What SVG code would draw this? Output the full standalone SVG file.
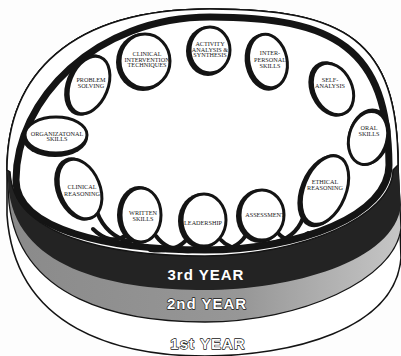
<svg xmlns="http://www.w3.org/2000/svg" width="401" height="356" viewBox="0 0 401 356">
<style>
.lbl{font-family:"Liberation Serif","Times New Roman",serif;font-size:6.2px;fill:#1a1a1a;text-anchor:middle}
.bub{fill:#fff;stroke:#141414;stroke-width:3}
.sh{fill:#141414}
.lnk{fill:none;stroke:#141414;stroke-width:4;stroke-linecap:round}
.yr{font-family:"Liberation Sans",Arial,sans-serif;font-weight:bold;font-size:15px;text-anchor:middle;letter-spacing:1px}
.out{fill:#fff;stroke:#141414;stroke-width:1.3;paint-order:stroke;stroke-linejoin:round}
</style>
<defs>
<linearGradient id="gray" x1="0" y1="0" x2="1" y2="0">
<stop offset="0" stop-color="#8a8a8a"/><stop offset="0.6" stop-color="#979797"/><stop offset="1" stop-color="#c6c6c6"/>
</linearGradient>
</defs>
<rect width="401" height="356" fill="#fdfdfd"/>
<g id="disk">
<path id="band-1st" d="M7,170 C7,75 70,9 210,9 C345,9 398,40 398,165 L401,258 C395,330 290,356 205,356 C120,356 15,330 7,215 Z" fill="#fff" stroke="#141414" stroke-width="1.6"/>
<path id="band-2nd" d="M7,170 C7,75 70,9 210,9 C345,9 398,40 398,165 L401,228 C395,280 300,322 205,322 C120,322 20,300 9,203 Z" fill="url(#gray)" stroke="#141414" stroke-width="1.3"/>
<path id="band-3rd" d="M7,170 C7,75 70,9 210,9 C345,9 398,40 398,165 L401,205 C395,262 290,290 205,290 C120,290 20,272 9,192 Z" fill="#232323"/>
<path id="top-face" d="M7,170 C7,75 70,9 210,9 C345,9 398,40 398,165 L393,170 C392,218 300,255 205,256 C108,256 13,236 10,172 Z" fill="#fff" stroke="#141414" stroke-width="1.5"/>
</g>
<g id="connectors">
<path id="ring" d="M16,180 C16,100 95,17 210,17 C335,17 388,48 389,165 C389,215 300,250 205,250 C110,250 16,230 16,180 Z" fill="none" stroke="#141414" stroke-width="7"/>
<path class="lnk" d="M97,212 C103,228 115,238 130,242"/>
<path class="lnk" d="M125,236 C116,242 104,240 93,229"/>
<path class="lnk" d="M156,236 C164,247 176,252 192,251"/>
<path class="lnk" d="M187,239 C180,248 168,252 150,250"/>
<path class="lnk" d="M221,240 C228,248 240,250 254,248"/>
<path class="lnk" d="M246,235 C240,245 228,251 212,251"/>
<path class="lnk" d="M278,233 C285,242 297,241 308,233"/>
<path class="lnk" d="M303,218 C298,231 288,240 272,243"/>
</g>
<g id="n1"><ellipse class="sh" cx="143" cy="62" rx="27" ry="29"/><ellipse class="bub" cx="145" cy="61" rx="25" ry="27"/><text class="lbl"><tspan x="147" y="55.5">CLINICAL</tspan><tspan x="147" y="61.5">INTERVENTION</tspan><tspan x="147" y="67.2">TECHNIQUES</tspan></text></g>
<g id="n2"><ellipse class="sh" cx="208" cy="51" rx="22" ry="25"/><ellipse class="bub" cx="210" cy="50" rx="20" ry="23"/><text class="lbl"><tspan x="210" y="45.5">ACTIVITY</tspan><tspan x="210" y="51.5">ANALYSIS &amp;</tspan><tspan x="210" y="57.2">SYNTHESIS</tspan></text></g>
<g id="n3"><ellipse class="sh" cx="266" cy="62" rx="21" ry="29" transform="rotate(-12 266 62)"/><ellipse class="bub" cx="268" cy="61" rx="19" ry="27" transform="rotate(-12 268 61)"/><text class="lbl"><tspan x="270" y="55.2">INTER-</tspan><tspan x="270" y="62">PERSONAL</tspan><tspan x="270" y="68">SKILLS</tspan></text></g>
<g id="n4"><ellipse class="sh" cx="331" cy="89" rx="21" ry="29" transform="rotate(-25 331 89)"/><ellipse class="bub" cx="333" cy="89" rx="19" ry="27" transform="rotate(-25 333 89)"/><text class="lbl"><tspan x="330" y="82">SELF-</tspan><tspan x="330" y="88">ANALYSIS</tspan></text></g>
<g id="n5"><ellipse class="sh" cx="369" cy="137" rx="21" ry="29" transform="rotate(15 369 137)"/><ellipse class="bub" cx="368" cy="138" rx="19" ry="27" transform="rotate(15 368 138)"/><text class="lbl"><tspan x="369" y="130">ORAL</tspan><tspan x="369" y="136">SKILLS</tspan></text></g>
<g id="n6"><ellipse class="sh" cx="323" cy="191" rx="23" ry="38" transform="rotate(22 323 191)"/><ellipse class="bub" cx="325" cy="190" rx="21" ry="36" transform="rotate(22 325 190)"/><text class="lbl"><tspan x="325" y="184">ETHICAL</tspan><tspan x="325" y="190">REASONING</tspan></text></g>
<g id="n7"><ellipse class="sh" cx="260" cy="216" rx="24" ry="27"/><ellipse class="bub" cx="262" cy="215" rx="22" ry="25"/><text class="lbl" x="265" y="216.5">ASSESSMENT</text></g>
<g id="n8"><ellipse class="sh" cx="202" cy="221" rx="24" ry="28"/><ellipse class="bub" cx="204" cy="220" rx="22" ry="26"/><text class="lbl" x="203" y="225">LEADERSHIP</text></g>
<g id="n9"><ellipse class="sh" cx="139" cy="215" rx="22" ry="29"/><ellipse class="bub" cx="141" cy="215" rx="20" ry="27"/><text class="lbl"><tspan x="143" y="215">WRITTEN</tspan><tspan x="143" y="221.2">SKILLS</tspan></text></g>
<g id="n10"><ellipse class="sh" cx="78" cy="189" rx="22" ry="33" transform="rotate(-22 78 189)"/><ellipse class="bub" cx="80" cy="189" rx="20" ry="31" transform="rotate(-22 80 189)"/><text class="lbl"><tspan x="82" y="189">CLINICAL</tspan><tspan x="82" y="195.5">REASONING</tspan></text></g>
<g id="n11"><ellipse class="sh" cx="55" cy="137" rx="33" ry="20"/><ellipse class="bub" cx="56" cy="135" rx="31" ry="18"/><text class="lbl"><tspan x="57" y="135.5">ORGANIZATONAL</tspan><tspan x="57" y="141">SKILLS</tspan></text></g>
<g id="n12"><ellipse class="sh" cx="87" cy="85" rx="21" ry="32" transform="rotate(22 87 85)"/><ellipse class="bub" cx="89" cy="85" rx="19" ry="30" transform="rotate(22 89 85)"/><text class="lbl"><tspan x="91" y="82">PROBLEM</tspan><tspan x="91" y="88">SOLVING</tspan></text></g>
<g id="years">
<text class="yr" x="206" y="280" fill="#fff">3rd YEAR</text>
<text class="yr out" x="207" y="309">2nd YEAR</text>
<text class="yr out" x="208" y="349">1st YEAR</text>
</g>
</svg>
